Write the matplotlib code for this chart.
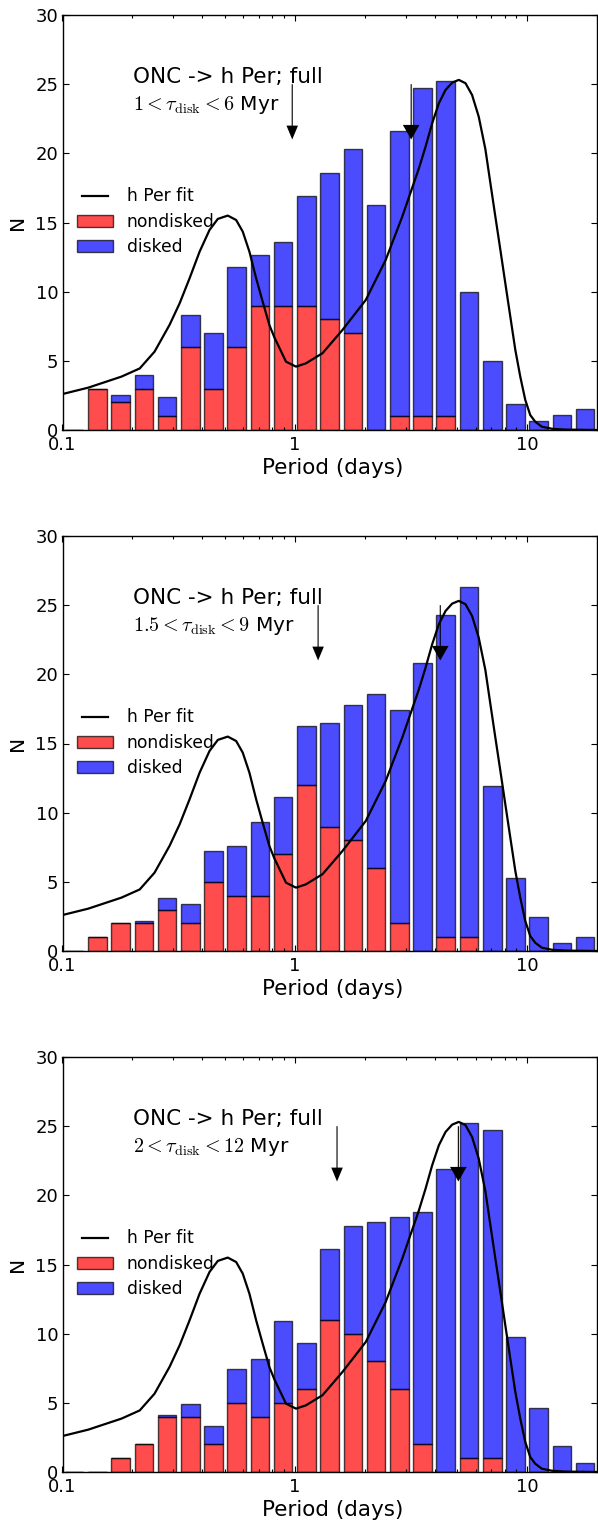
import numpy as np
import matplotlib
matplotlib.use('Agg')
import matplotlib.pyplot as plt

plt.rcParams['mathtext.fontset'] = 'cm'
plt.rcParams['font.family'] = 'DejaVu Sans'

# left edges of the log10(period) bins, 0.1 dex wide
bin_lo = [-1.0, -0.9, -0.8, -0.7, -0.6, -0.5, -0.4, -0.3, -0.2, -0.1, 0.0, 0.1,
          0.2, 0.3, 0.4, 0.5, 0.6, 0.7, 0.8, 0.9, 1.0, 1.1, 1.2]

# panel 1: 1 < tau_disk < 6 Myr
nodisk_1 = [0, 3, 2, 3, 1, 6, 3, 6, 9, 9, 9, 8, 7, 0, 1, 1, 1, 0, 0, 0, 0, 0, 0]
total_1 = [0, 3, 2.5, 4, 2.35, 8.3, 7, 11.8, 12.65, 13.6, 16.9, 18.6, 20.3, 16.3,
           21.6, 24.7, 25.2, 10, 5, 1.9, 0.65, 1.05, 1.5]
# panel 2: 1.5 < tau_disk < 9 Myr
nodisk_2 = [0, 1, 2, 2, 3, 2, 5, 4, 4, 7, 12, 9, 8, 6, 2, 0, 1, 1, 0, 0, 0, 0, 0]
total_2 = [0, 1, 2, 2.2, 3.8, 3.4, 7.2, 7.6, 9.3, 11.1, 16.3, 16.45, 17.8, 18.6,
           17.4, 20.8, 24.3, 26.3, 11.9, 5.25, 2.45, 0.6, 1.0]
# panel 3: 2 < tau_disk < 12 Myr
nodisk_3 = [0, 0, 1, 2, 4, 4, 2, 5, 4, 5, 6, 11, 10, 8, 6, 2, 0, 1, 1, 0, 0, 0, 0]
total_3 = [0, 0, 1, 2, 4.15, 4.9, 3.35, 7.45, 8.15, 10.9, 9.3, 16.15, 17.8, 18.05,
           18.45, 18.8, 21.9, 25.2, 24.7, 9.75, 4.6, 1.85, 0.65]

# h Per fit
fit_p = [0.1, 0.129, 0.1795, 0.215, 0.249, 0.289, 0.3194, 0.3525, 0.3892, 0.4295,
         0.4663, 0.5147, 0.5592, 0.597, 0.6378, 0.6817, 0.7273, 0.7773, 0.8166,
         0.9166, 1.012, 1.117, 1.316, 1.604, 2.021, 2.462, 2.901, 3.42, 3.657,
         3.903, 4.171, 4.456, 4.757, 5.082, 5.431, 5.797, 6.193, 6.615, 6.952,
         7.303, 7.674, 8.061, 8.47, 8.902, 9.35, 9.824, 10.32, 10.84, 11.57,
         12.78, 14.58, 20.0]
fit_n = [2.6, 3.06, 3.86, 4.45, 5.66, 7.6, 9.16, 10.97, 12.89, 14.46,
         15.26, 15.5, 15.18, 14.34, 12.89, 10.97, 9.28, 7.59, 6.7,
         4.94, 4.58, 4.82, 5.55, 7.23, 9.4, 12.29, 15.42, 18.9, 20.49,
         22.17, 23.62, 24.58, 25.11, 25.31, 25.07, 24.22, 22.65, 20.3, 17.84,
         15.42, 13.02, 10.6, 8.19, 5.78, 3.85, 2.17, 1.08, 0.6, 0.24,
         0.09, 0.03, 0.0]

labels = [r'$1<\tau_{\rm disk}<6$ Myr', r'$1.5<\tau_{\rm disk}<9$ Myr',
          r'$2<\tau_{\rm disk}<12$ Myr']
arrows = [(0.975, 3.17), (1.26, 4.23), (1.52, 5.06)]
nodisk = [nodisk_1, nodisk_2, nodisk_3]
total = [total_1, total_2, total_3]

fig = plt.figure(figsize=(5.98, 15.21), dpi=100)
W, H = 598., 1521.
panels = [(15, 430), (536, 951), (1057, 1472)]

lo = np.array(bin_lo)
left = 10 ** (lo + 0.01)
right = 10 ** (lo + 0.09)

for i, (top, bot) in enumerate(panels):
    ax = fig.add_axes([62.5 / W, 1 - bot / H, 534.5 / W, (bot - top) / H])
    nd = np.array(nodisk[i], dtype=float)
    dk = np.array(total[i], dtype=float) - nd

    l1, = ax.plot(fit_p, fit_n, 'k-', lw=1.6, label='h Per fit', zorder=3)
    b1 = ax.bar(left, nd, width=right - left, align='edge', color='red',
                alpha=0.7, edgecolor='k', linewidth=1, label='nondisked')
    b2 = ax.bar(left, dk, width=right - left, bottom=nd, align='edge', color='blue',
                alpha=0.7, edgecolor='k', linewidth=1, label='disked')

    a1, a2 = arrows[i]
    ax.annotate('', xy=(a1, 21), xytext=(a1, 25),
                arrowprops=dict(facecolor='k', edgecolor='none', width=0.8,
                                headwidth=8.3, headlength=10, shrink=0), zorder=4)
    ax.annotate('', xy=(a2, 21), xytext=(a2, 25),
                arrowprops=dict(facecolor='k', edgecolor='none', width=0.8,
                                headwidth=12, headlength=10.5, shrink=0), zorder=4)

    ax.text(0.132, 0.836, 'ONC -> h Per; full', transform=ax.transAxes,
            fontsize=15.5, va='baseline', ha='left')
    ax.text(0.132, 0.772, labels[i], transform=ax.transAxes,
            fontsize=14.5, va='baseline', ha='left')

    ax.set_xscale('log')
    ax.set_xlim(0.1, 20)
    ax.set_ylim(0, 30)
    ax.set_yticks([0, 5, 10, 15, 20, 25, 30])
    ax.set_xticks([0.1, 1, 10])
    ax.set_xticklabels(['0.1', '1', '10'])
    ax.tick_params(which='both', direction='in', top=True, right=True, labelsize=13)
    ax.tick_params(which='major', length=4.5, width=0.8)
    ax.tick_params(which='minor', length=2.5, width=0.8)
    ax.tick_params(axis='y', pad=3)
    ax.tick_params(axis='x', pad=4)
    for s in ax.spines.values():
        s.set_linewidth(1.0)

    ax.set_xlabel('Period (days)', fontsize=15.5)
    ax.xaxis.label.set_va('center')
    ax.xaxis.set_label_coords(0.505, -0.092)
    ax.set_ylabel('N', fontsize=14.5)
    ax.yaxis.label.set_va('center')
    ax.yaxis.set_label_coords(-0.085, 0.5)

    ax.legend(handles=[l1, b1, b2], loc='center left', bbox_to_anchor=(0.0277, 0.502),
              frameon=False, fontsize=12.3, numpoints=2, handlelength=2.1,
              handletextpad=0.8, borderpad=0, borderaxespad=0, labelspacing=0.42)

fig.savefig('out.png', dpi=100)
